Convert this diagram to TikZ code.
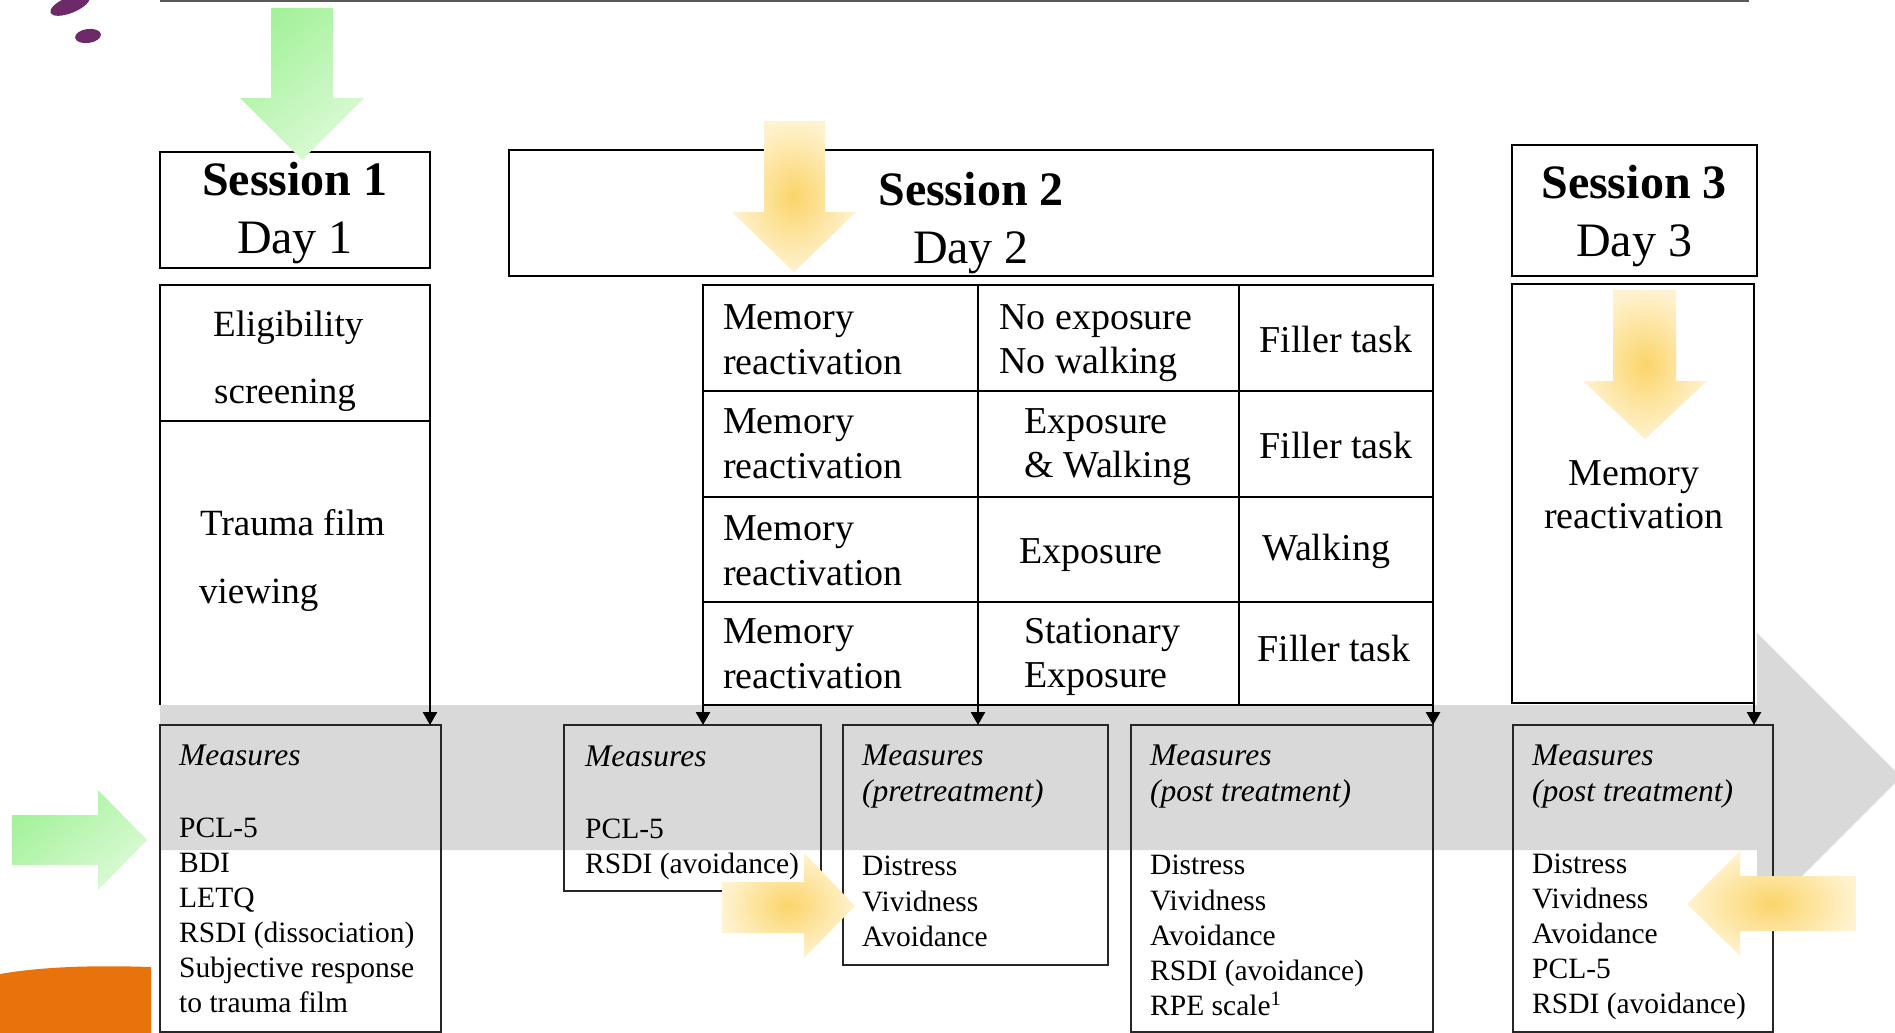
\documentclass[tikz,border=0pt]{standalone}
\usepackage{fontspec}
\setmainfont{Liberation Serif}
\usetikzlibrary{arrows.meta}
\definecolor{bandgray}{HTML}{D9D9D9}
\definecolor{linegray}{HTML}{5A5A5A}
\definecolor{blobpurple}{HTML}{6E2A68}
\definecolor{bloborange}{HTML}{E8730D}
\definecolor{ycore}{HTML}{FBD56A}
\definecolor{yedge}{HTML}{FFF2CF}
\definecolor{gdark}{HTML}{A3F29A}
\definecolor{glight}{HTML}{DCFAD6}
\tikzset{
  boxnode/.style={draw=black, line width=2.6pt, inner sep=0pt, outer sep=0pt, anchor=north west},
  areanode/.style={inner sep=0pt, outer sep=0pt, anchor=north west},
  measbox/.style={draw=black!85, line width=2pt, inner sep=0pt, outer sep=0pt, anchor=north west},
  flow/.style={line width=2.6pt, -{Triangle[length=13pt,width=14pt]}},
  ttlb/.style={font=\fontsize{48}{58}\selectfont\bfseries, anchor=base, inner sep=0pt},
  ttl/.style={font=\fontsize{48}{58}\selectfont, anchor=base, inner sep=0pt},
  s1txt/.style={font=\fontsize{37}{44}\selectfont, anchor=base west, inner sep=0pt},
  celltxt/.style={font=\fontsize{38}{44}\selectfont, anchor=base west, inner sep=0pt},
  celltxtc/.style={font=\fontsize{38}{44}\selectfont, anchor=base, inner sep=0pt},
  mtxt/.style={font=\fontsize{29.5}{35}\selectfont, anchor=base west, inner sep=0pt},
  mhead/.style={font=\fontsize{31.5}{36}\selectfont\itshape, anchor=base west, inner sep=0pt},
  yshade/.style={inner color=ycore, outer color=yedge},
  gshade/.style={top color=gdark, bottom color=glight, shading angle=40}
}
\begin{document}
\begin{tikzpicture}[x=1pt,y=-1pt]
\useasboundingbox (0,0) rectangle (1895,1033);
\fill[white] (0,0) rectangle (1895,1033);

% decorative blobs
\fill[blobpurple, rotate around={22:(70,5)}] (70,5) ellipse [x radius=21pt, y radius=8pt];
\fill[blobpurple, rotate around={8:(88,36)}] (88,36) ellipse [x radius=13pt, y radius=7pt];
\fill[bloborange] (0,1033) -- (0,974) .. controls (40,967) and (90,965) .. (151,967) -- (151,1033) -- cycle;

% top rule
\draw[linegray, line width=2pt] (160,1.5) -- (1749,1.5);

% gray timeline arrow
\fill[bandgray] (160,705) -- (1757,705) -- (1757,633) -- (1901,777) -- (1757,921) -- (1757,850) -- (160,850) -- cycle;

% Session 1
\node[boxnode, minimum width=270pt, minimum height=116pt] (s1) at (160,152) {};
\node[ttlb] (s1a) at (295,195) {Session 1};
\node[ttl] (s1b) at (295,253) {Day 1};
\node[boxnode, minimum width=270pt, minimum height=136pt] (elig) at (160,285) {};
\node[areanode, minimum width=270pt, minimum height=284pt] (trauma) at (160,421) {};
\draw[line width=2.6pt] (trauma.north west) -- (trauma.south west);
\node[s1txt] (el1) at (213,336) {Eligibility};
\node[s1txt] (el2) at (214,403) {screening};
\node[s1txt] (tr1) at (200,535) {Trauma film};
\node[s1txt] (tr2) at (199,603) {viewing};

% Session 2
\node[boxnode, minimum width=924pt, minimum height=126pt] (s2) at (509,150) {};
\node[ttlb] (s2a) at (971,205) {Session 2};
\node[ttl] (s2b) at (971,263) {Day 2};

% table
\node[boxnode, minimum width=275pt, minimum height=106pt] (c11) at (703,285) {};
\node[boxnode, minimum width=261pt, minimum height=106pt] (c12) at (978,285) {};
\node[boxnode, minimum width=194pt, minimum height=106pt] (c13) at (1239,285) {};
\node[boxnode, minimum width=275pt, minimum height=106pt] (c21) at (703,391) {};
\node[boxnode, minimum width=261pt, minimum height=106pt] (c22) at (978,391) {};
\node[boxnode, minimum width=194pt, minimum height=106pt] (c23) at (1239,391) {};
\node[boxnode, minimum width=275pt, minimum height=105pt] (c31) at (703,497) {};
\node[boxnode, minimum width=261pt, minimum height=105pt] (c32) at (978,497) {};
\node[boxnode, minimum width=194pt, minimum height=105pt] (c33) at (1239,497) {};
\node[boxnode, minimum width=275pt, minimum height=103pt] (c41) at (703,602) {};
\node[boxnode, minimum width=261pt, minimum height=103pt] (c42) at (978,602) {};
\node[boxnode, minimum width=194pt, minimum height=103pt] (c43) at (1239,602) {};

\node[celltxt] (t11a) at (723,329) {Memory};
\node[celltxt] (t11b) at (723,374) {reactivation};
\node[celltxt] (t21a) at (723,433) {Memory};
\node[celltxt] (t21b) at (723,478) {reactivation};
\node[celltxt] (t31a) at (723,540) {Memory};
\node[celltxt] (t31b) at (723,585) {reactivation};
\node[celltxt] (t41a) at (723,643) {Memory};
\node[celltxt] (t41b) at (723,688) {reactivation};

\node[celltxt] (t12a) at (999,329) {No exposure};
\node[celltxt] (t12b) at (999,373) {No walking};
\node[celltxt] (t22a) at (1024,433) {Exposure};
\node[celltxt] (t22b) at (1024,477) {\& Walking};
\node[celltxt] (t32) at (1019,563) {Exposure};
\node[celltxt] (t42a) at (1024,643) {Stationary};
\node[celltxt] (t42b) at (1024,687) {Exposure};

\node[celltxtc] (t13) at (1336,352) {Filler task};
\node[celltxtc] (t23) at (1336,458) {Filler task};
\node[celltxt] (t33) at (1262,560) {Walking};
\node[celltxtc] (t43) at (1334,661) {Filler task};

% Session 3
\node[boxnode, minimum width=245pt, minimum height=131pt] (s3) at (1512,145) {};
\node[ttlb] (s3a) at (1634,198) {Session 3};
\node[ttl] (s3b) at (1634,256) {Day 3};
\node[boxnode, minimum width=242pt, minimum height=419pt] (s3low) at (1512,284) {};
\node[celltxtc] (s3m1) at (1634,485) {Memory};
\node[celltxtc] (s3m2) at (1634,528) {reactivation};

% measures boxes
\node[measbox, minimum width=281pt, minimum height=307pt] (m1) at (160,725) {};
\node[measbox, minimum width=257pt, minimum height=166pt] (m2) at (564,725) {};
\node[measbox, minimum width=265pt, minimum height=240pt] (m3) at (843,725) {};
\node[measbox, minimum width=302pt, minimum height=307pt] (m4) at (1131,725) {};
\node[measbox, minimum width=260pt, minimum height=307pt] (m5) at (1513,725) {};

\node[mhead] (m1h) at (179,765) {Measures};
\node[mtxt] (m1a) at (179,837) {PCL-5};
\node[mtxt] (m1b) at (179,872) {BDI};
\node[mtxt] (m1c) at (179,907) {LETQ};
\node[mtxt] (m1d) at (179,942) {RSDI (dissociation)};
\node[mtxt] (m1e) at (179,977) {Subjective response};
\node[mtxt] (m1f) at (179,1012) {to trauma film};

\node[mhead] (m2h) at (585,766) {Measures};
\node[mtxt] (m2a) at (585,838) {PCL-5};
\node[mtxt] (m2b) at (585,873) {RSDI (avoidance)};

\node[mhead] (m3h) at (862,765) {Measures};
\node[mhead] (m3s) at (862,801) {(pretreatment)};
\node[mtxt] (m3a) at (862,875) {Distress};
\node[mtxt] (m3b) at (862,911) {Vividness};
\node[mtxt] (m3c) at (862,946) {Avoidance};

\node[mhead] (m4h) at (1150,765) {Measures};
\node[mhead] (m4s) at (1150,801) {(post treatment)};
\node[mtxt] (m4a) at (1150,874) {Distress};
\node[mtxt] (m4b) at (1150,910) {Vividness};
\node[mtxt] (m4c) at (1150,945) {Avoidance};
\node[mtxt] (m4d) at (1150,980) {RSDI (avoidance)};
\node[mtxt] (m4e) at (1150,1015) {RPE scale\textsuperscript{1}};

\node[mhead] (m5h) at (1532,765) {Measures};
\node[mhead] (m5s) at (1532,801) {(post treatment)};
\node[mtxt] (m5a) at (1532,873) {Distress};
\node[mtxt] (m5b) at (1532,908) {Vividness};
\node[mtxt] (m5c) at (1532,943) {Avoidance};
\node[mtxt] (m5d) at (1532,978) {PCL-5};
\node[mtxt] (m5e) at (1532,1013) {RSDI (avoidance)};

% flow arrows
\draw[flow] (trauma.north east) -- (trauma.north east |- m1.north);
\draw[flow] (c41.south west) -- (c41.south west |- m2.north);
\draw[flow] (c42.south west) -- (c42.south west |- m3.north);
\draw[flow] (c43.south east) -- (c43.south east |- m4.north);
\draw[flow] (s3low.south east) -- (s3low.south east |- m5.north);

% coloured block arrows
\shade[gshade] (271,8) -- (333,8) -- (333,98) -- (364,98) -- (302,160) -- (240,98) -- (271,98) -- cycle;
\shade[gshade] (12,815) -- (98,815) -- (98,790) -- (147,840) -- (98,890) -- (98,865) -- (12,865) -- cycle;
\shade[yshade] (764,121) -- (825,121) -- (825,212) -- (856,212) -- (794,272) -- (732,212) -- (764,212) -- cycle;
\shade[yshade] (1613,290) -- (1676,290) -- (1676,381) -- (1707,381) -- (1645,439) -- (1583,381) -- (1613,381) -- cycle;
\shade[yshade] (722,882) -- (804,882) -- (804,853) -- (855,906) -- (804,958) -- (804,933) -- (722,933) -- cycle;
\shade[yshade] (1856,876) -- (1740,876) -- (1740,851) -- (1687,904) -- (1740,956) -- (1740,931) -- (1856,931) -- cycle;
\end{tikzpicture}
\end{document}
